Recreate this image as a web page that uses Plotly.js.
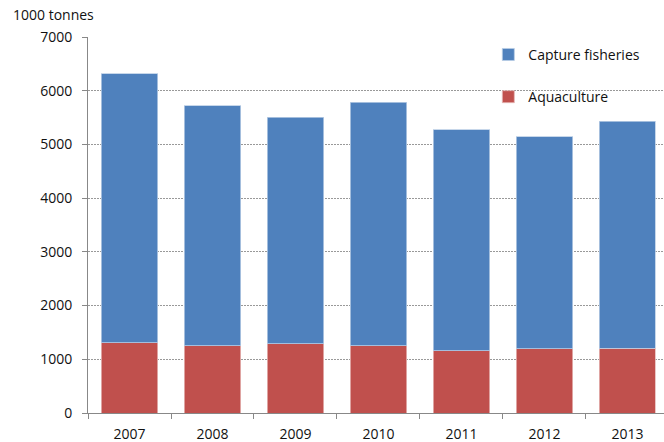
<!DOCTYPE html>
<html>
<head>
<meta charset="utf-8">
<script src="https://cdn.plot.ly/plotly-3.0.1.min.js"></script>
<style>
  body { margin: 0; background: #fff; }
  #plot { width: 664px; height: 442px; }
</style>
</head>
<body>
<div id="plot"></div>
<script>
// Fish production, 1000 tonnes
var years = ["2007", "2008", "2009", "2010", "2011", "2012", "2013"];
var aquaculture = [1310, 1250, 1285, 1250, 1160, 1200, 1210];
var capture = [5010, 4470, 4225, 4535, 4110, 3940, 4220];

var trace1 = {
    x: years,
    y: aquaculture,
    name: "Aquaculture",
    type: "bar",
    legendgroup: "a",
    legendrank: 2,
    marker: {color: "#C0504D", line: {color: "#e6b9b8", width: 0.8}},
    hoverinfo: "x+y+name"
};

var trace2 = {
    x: years,
    y: capture,
    name: "Capture fisheries",
    type: "bar",
    legendgroup: "c",
    legendrank: 1,
    marker: {color: "#4F81BD", line: {color: "#b9cde5", width: 0.8}},
    hoverinfo: "x+y+name"
};

var data = [trace1, trace2];

var layout = {
    width: 664,
    height: 442,
    barmode: "stack",
    bargap: 0.325,
    font: {family: "'Open Sans', Lato, sans-serif", size: 14, color: "#111"},
    margin: {l: 88, r: 0, t: 37, b: 29},
    paper_bgcolor: "#fff",
    plot_bgcolor: "#fff",
    showlegend: true,
    legend: {
        x: 0.695,
        y: 0.995,
        xanchor: "left",
        yanchor: "top",
        traceorder: "grouped",
        tracegroupgap: 21,
        font: {size: 14},
        bgcolor: "rgba(0,0,0,0)"
    },
    xaxis: {
        type: "category",
        range: [-0.5, 6.44],
        showline: true,
        linecolor: "#888",
        linewidth: 1,
        ticks: "outside",
        tickson: "boundaries",
        ticklen: 5,
        tickcolor: "#888",
        ticklabelstandoff: 8,
        showgrid: false,
        fixedrange: true
    },
    yaxis: {
        range: [0, 7000],
        dtick: 1000,
        showline: true,
        linecolor: "#888",
        linewidth: 1,
        ticks: "outside",
        ticklen: 5,
        tickcolor: "#888",
        ticklabelstandoff: 7,
        showgrid: true,
        gridcolor: "#999",
        griddash: "2px,1px",
        gridwidth: 1,
        zeroline: false,
        fixedrange: true
    },
    annotations: [{
        text: "1000 tonnes",
        xref: "paper",
        yref: "paper",
        x: -77 / 576,
        y: 1 + 22 / 376,
        xanchor: "left",
        yanchor: "middle",
        showarrow: false,
        font: {size: 14}
    }]
};

Plotly.newPlot("plot", data, layout, {displayModeBar: false, staticPlot: true});
</script>
</body>
</html>
